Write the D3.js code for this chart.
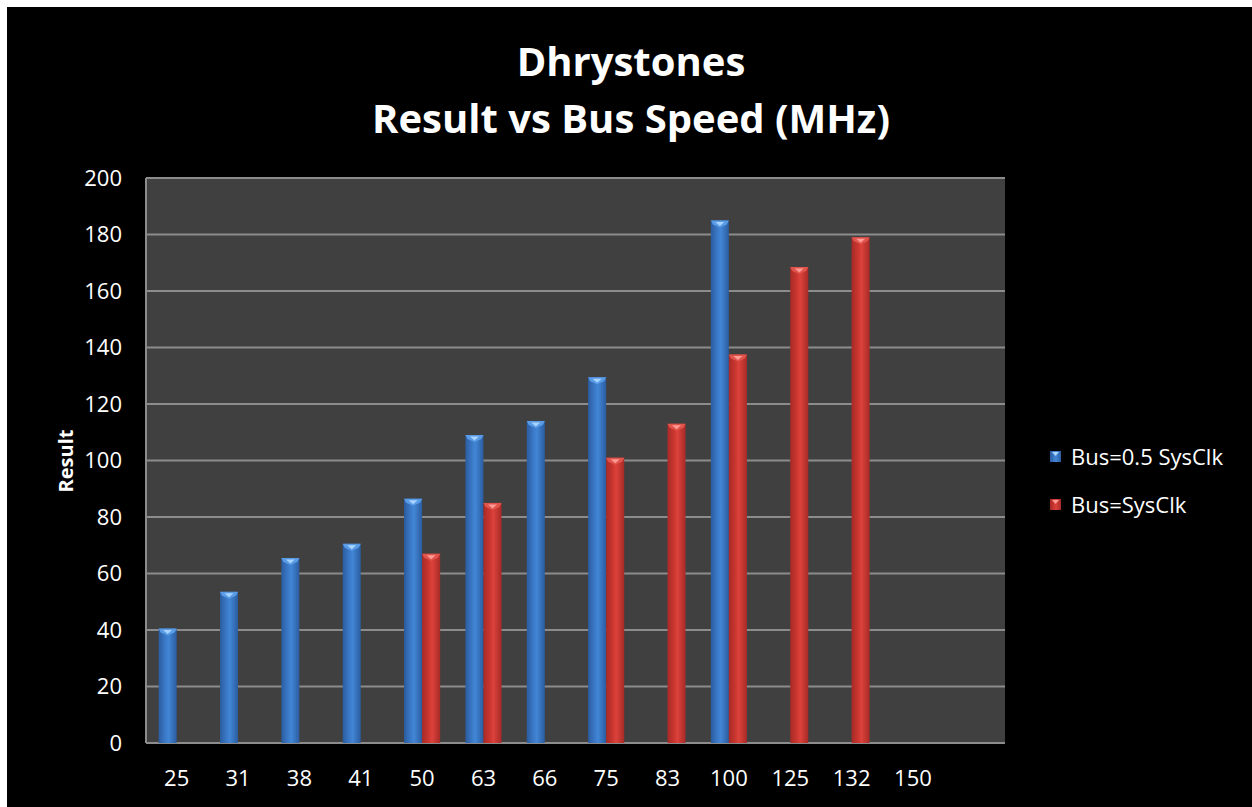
<!DOCTYPE html>
<html>
<head>
<meta charset="utf-8">
<script src="https://cdn.jsdelivr.net/npm/d3@7"></script>
<style>
  html, body { margin: 0; padding: 0; background: #fff; }
  svg { display: block; }
  text { font-family: "Open Sans", Lato, sans-serif; fill: #fff; }
</style>
</head>
<body>
<script>

// categories (bus speed, MHz) - last slot is an empty category
var speeds = ["25", "31", "38", "41", "50", "63", "66", "75", "83", "100", "125", "132", "150", ""];

// series values, null = no bar
var halfClk = [40.5, 53.5, 65.5, 70.5, 86.5, 109, 114, 129.5, null, 185, null, null, null, null];
var fullClk = [null, null, null, null, 67, 85, null, 101, 113, 137.5, 168.5, 179, null, null];

var seriesNames = ["Bus=0.5 SysClk", "Bus=SysClk"];
var yTicks = [0, 20, 40, 60, 80, 100, 120, 140, 160, 180, 200];


var W = 1252, H = 807,
    plotL = 146, plotR = 1005, plotT = 178, plotB = 743;


var svg = d3.select("body").append("svg")
    .attr("width", W)
    .attr("height", H);

// black chart area, white strip on top/left like the screenshot
svg.append("rect")
    .attr("x", 7).attr("y", 7)
    .attr("width", W - 7).attr("height", H - 7)
    .attr("fill", "#000");


var defs = svg.append("defs");

function cylinder(id, dark, mid, light) {
    var g = defs.append("linearGradient").attr("id", id)
        .attr("x1", "0%").attr("x2", "100%").attr("y1", "0%").attr("y2", "0%");
    g.append("stop").attr("offset", "0%").attr("stop-color", dark);
    g.append("stop").attr("offset", "35%").attr("stop-color", mid);
    g.append("stop").attr("offset", "55%").attr("stop-color", light);
    g.append("stop").attr("offset", "100%").attr("stop-color", dark);
}
cylinder("gBlue", "#2b5c9f", "#3a78c6", "#4286d6");
cylinder("gRed", "#a82a27", "#c9362f", "#dc423b");


var x0 = d3.scaleBand().domain(speeds).range([plotL, plotR]);

var x1 = d3.scaleBand().domain(seriesNames)
    .range([0, x0.bandwidth()])
    .paddingOuter(0.7);

var y = d3.scaleLinear().domain([0, 200]).range([plotB, plotT]);


// plot background
svg.append("rect")
    .attr("x", plotL).attr("y", plotT)
    .attr("width", plotR - plotL).attr("height", plotB - plotT)
    .attr("fill", "#404040");

// gridlines
svg.append("g")
    .selectAll("line")
    .data(yTicks)
    .join("line")
        .attr("x1", plotL).attr("x2", plotR)
        .attr("y1", function(d) { return y(d); })
        .attr("y2", function(d) { return y(d); })
        .attr("stroke", "#8c8c8c")
        .attr("stroke-width", 2);

svg.append("line")
    .attr("x1", plotL).attr("x2", plotL)
    .attr("y1", plotT).attr("y2", plotB)
    .attr("stroke", "#8c8c8c").attr("stroke-width", 2);


// bars
var series = [
    { name: seriesNames[0], values: halfClk, fill: "url(#gBlue)", cap: "#a9d4ff", capEdge: "#5a9be6" },
    { name: seriesNames[1], values: fullClk, fill: "url(#gRed)",  cap: "#ff9a94", capEdge: "#e0544c" }
];

var barLayer = svg.append("g");

series.forEach(function(s) {

    var pts = speeds.map(function(c, i) { return { cat: c, v: s.values[i] }; })
        .filter(function(d) { return d.v != null; });

    var g = barLayer.append("g");

    g.selectAll("rect")
        .data(pts)
        .join("rect")
            .attr("x", function(d) { return x0(d.cat) + x1(s.name); })
            .attr("y", function(d) { return y(d.v); })
            .attr("width", x1.bandwidth())
            .attr("height", function(d) { return y(0) - y(d.v); })
            .attr("fill", s.fill);

    // bevelled top
    g.selectAll("path.top")
        .data(pts)
        .join("path")
            .attr("class", "top")
            .attr("d", function(d) {
                var bx = x0(d.cat) + x1(s.name), bw = x1.bandwidth(), by = y(d.v);
                return "M" + bx + "," + by + "H" + (bx + bw) +
                       "L" + (bx + bw - 2) + "," + (by + 4) +
                       "L" + (bx + bw / 2) + "," + (by + 7) +
                       "L" + (bx + 2) + "," + (by + 4) + "Z";
            })
            .attr("fill", s.capEdge);

    g.selectAll("path.hl")
        .data(pts)
        .join("path")
            .attr("class", "hl")
            .attr("d", function(d) {
                var bx = x0(d.cat) + x1(s.name), bw = x1.bandwidth(), by = y(d.v);
                return "M" + (bx + bw * 0.25) + "," + (by + 1.5) + "H" + (bx + bw * 0.75) +
                       "L" + (bx + bw / 2) + "," + (by + 5.5) + "Z";
            })
            .attr("fill", s.cap);
});


// y axis labels
svg.append("g")
    .selectAll("text")
    .data(yTicks)
    .join("text")
        .attr("x", 122)
        .attr("y", function(d) { return y(d); })
        .attr("dy", "0.35em")
        .attr("text-anchor", "end")
        .style("font-size", "22px")
        .text(function(d) { return d; });

// x axis labels
svg.append("g")
    .selectAll("text")
    .data(speeds)
    .join("text")
        .attr("x", function(d) { return x0(d) + x0.bandwidth() / 2; })
        .attr("y", 778)
        .attr("dy", "0.35em")
        .attr("text-anchor", "middle")
        .style("font-size", "22px")
        .text(function(d) { return d; });

svg.append("text")
    .attr("transform", "translate(66,461) rotate(-90)")
    .attr("text-anchor", "middle")
    .attr("dy", "0.35em")
    .style("font-size", "20px")
    .style("font-weight", "bold")
    .text("Result");


// title
svg.append("text")
    .attr("x", 631).attr("y", 76)
    .attr("text-anchor", "middle")
    .style("font-size", "40px")
    .style("font-weight", "bold")
    .text("Dhrystones");

svg.append("text")
    .attr("x", 631).attr("y", 133)
    .attr("text-anchor", "middle")
    .style("font-size", "40px")
    .style("font-weight", "bold")
    .text("Result vs Bus Speed (MHz)");


// legend
var legend = svg.append("g")
    .selectAll("g")
    .data(series)
    .join("g")
        .attr("transform", function(d, i) { return "translate(1050," + (451 + i * 48) + ")"; });

legend.append("rect")
    .attr("width", 11).attr("height", 11)
    .attr("fill", function(d) { return d.fill; });

legend.append("path")
    .attr("d", "M2,1H9L5.5,5Z")
    .attr("fill", function(d) { return d.cap; });

legend.append("text")
    .attr("x", 21).attr("y", 6)
    .attr("dy", "0.35em")
    .style("font-size", "22px")
    .text(function(d) { return d.name; });

</script>
</body>
</html>
